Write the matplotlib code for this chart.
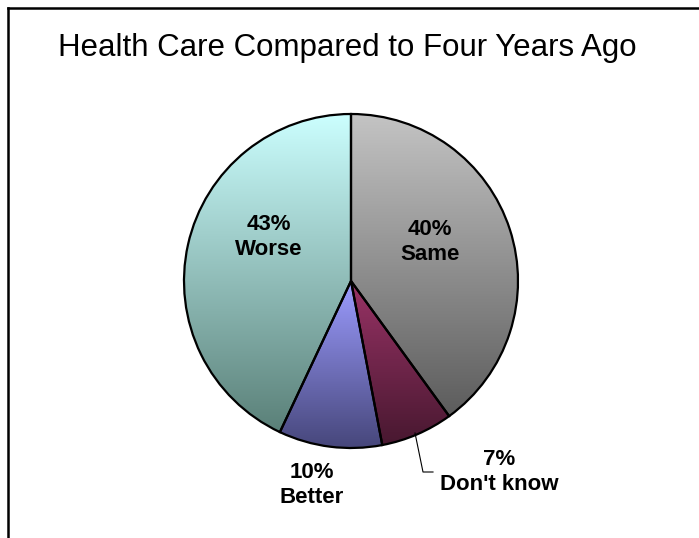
import matplotlib
matplotlib.use("Agg")
import matplotlib.pyplot as plt
from matplotlib.colors import LinearSegmentedColormap
import numpy as np

plt.rcParams['font.family'] = ['Liberation Sans', 'DejaVu Sans']

# Data
title = "Health Care Compared to Four Years Ago"
categories = ["Same", "Don't know", "Better", "Worse"]
shares = [40, 7, 10, 43]
pct_labels = ["40%", "7%", "10%", "43%"]
# gradient colours (top, bottom) per slice
top_colors = ["#c4c4c4", "#993366", "#9c9cff", "#ccffff"]
bottom_colors = ["#5c5c5c", "#481830", "#46467a", "#5a8078"]

W, H = 699, 538
fig = plt.figure(figsize=(W / 100, H / 100), dpi=100)
ax = fig.add_axes([0, 0, 1, 1])

# pie geometry in pixel units (y up)
cx, cy, r = 351, H - 281, 167
wedges, _ = ax.pie(shares, startangle=90, counterclock=False,
                   center=(cx, cy), radius=r,
                   wedgeprops=dict(facecolor="none", edgecolor="black", linewidth=1.6))

# vertical gradient fill per slice, clipped to the wedge
for w, c_top, c_bot in zip(wedges, top_colors, bottom_colors):
    verts = w.get_path().vertices
    x0, x1 = verts[:, 0].min(), verts[:, 0].max()
    y0, y1 = verts[:, 1].min(), verts[:, 1].max()
    cmap = LinearSegmentedColormap.from_list("g", [c_bot, c_top])
    grad = np.linspace(0, 1, 256).reshape(-1, 1)
    im = ax.imshow(grad, cmap=cmap, origin="lower", aspect="auto",
                   extent=(x0, x1, y0, y1), zorder=0.5)
    im.set_clip_path(w)
    w.set_zorder(1)

# labels (pixel positions, y from top)
label_pos = [(430, 242), (499, 472), (312, 485), (269, 237)]
for name, pct, (lx, ly) in zip(categories, pct_labels, label_pos):
    ax.text(lx, H - ly, pct + "\n" + name, ha="center", va="center",
            fontsize=16, fontweight="bold", linespacing=1.3, zorder=3)

# leader line for the small slice
ax.plot([415, 423, 433], [H - 433, H - 472, H - 472], color="black", lw=0.8, zorder=3)

ax.text(347, H - 48, title, ha="center", va="center", fontsize=22.5)

# chart frame (cut off at right/bottom)
ax.plot([8, W], [H - 8, H - 8], color="black", lw=1.8, zorder=4)
ax.plot([8, 8], [H - 8, 0], color="black", lw=1.8, zorder=4)

ax.set_xlim(0, W)
ax.set_ylim(0, H)
ax.set_aspect("auto")
ax.axis("off")

fig.savefig("out.png", dpi=100, facecolor="white")
